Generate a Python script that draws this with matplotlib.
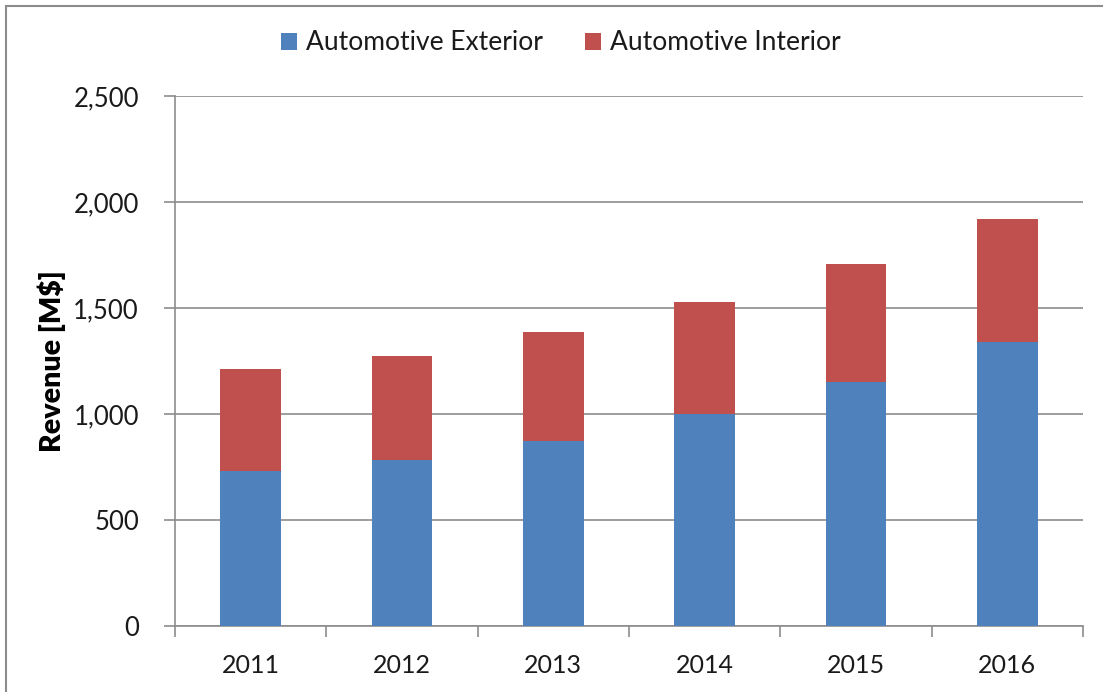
import matplotlib
matplotlib.use("Agg")
import matplotlib.pyplot as plt
from matplotlib.patches import Rectangle
from matplotlib.ticker import FuncFormatter, FixedLocator

years = ["2011", "2012", "2013", "2014", "2015", "2016"]
exterior = [730, 783, 873, 1002, 1151, 1340]
interior = [481, 489, 514, 525, 558, 578]
series_names = ["Automotive Exterior", "Automotive Interior"]
yticks = [0, 500, 1000, 1500, 2000, 2500]

plt.rcParams['font.family'] = ['Lato', 'DejaVu Sans']

W, H = 1103, 692
fig = plt.figure(figsize=(W / 100, H / 100), dpi=100)

# outer frame
fig.patches.append(Rectangle((6 / W, -0.05), 1.1, (H - 6) / H + 0.05, transform=fig.transFigure,
                             fill=False, edgecolor="#8c8c8c", linewidth=1.5))

left, right, top, bottom = 175, 1083, 96, 626
ax = fig.add_axes([left / W, 1 - bottom / H, (right - left) / W, (bottom - top) / H])

x = list(range(len(years)))
blue = "#4F81BD"
red = "#C0504D"
b1 = ax.bar(x, exterior, width=0.40, color=blue, label=series_names[0], zorder=3)
b2 = ax.bar(x, interior, width=0.40, bottom=exterior, color=red, label=series_names[1], zorder=3)

ax.set_xlim(-0.5, len(years) - 0.5)
ax.set_ylim(0, 2500)
ax.yaxis.set_major_locator(FixedLocator(yticks))
ax.yaxis.set_major_formatter(FuncFormatter(lambda v, p: f"{int(v):,}"))
ax.set_xticks(x)
ax.set_xticklabels(years)
ax.xaxis.set_minor_locator(FixedLocator([i - 0.5 for i in range(len(years) + 1)]))

grid_c = "#8c8c8c"
ax.grid(axis="y", color=grid_c, linewidth=1.2, zorder=0)
for s in ["top", "right"]:
    ax.spines[s].set_visible(False)
for s in ["left", "bottom"]:
    ax.spines[s].set_color(grid_c)
    ax.spines[s].set_linewidth(1.2)

ax.tick_params(axis="x", which="major", length=0, pad=20, labelsize=18, colors="#1a1a1a")
ax.tick_params(axis="x", which="minor", length=8, width=1.2, color=grid_c)
ax.tick_params(axis="y", length=8, width=1.2, color=grid_c, pad=18, labelsize=18.5, labelcolor="#1a1a1a")

fig.text(52 / W, 1 - 361 / H, "Revenue [M$]", rotation=90, ha="center", va="center",
         fontsize=20.5, fontweight="heavy", color="#000000")

leg = fig.legend(handles=[b1, b2], labels=series_names, loc="center", bbox_to_anchor=(561 / W, 1 - 43 / H),
                 ncol=2, frameon=False, fontsize=19, handlelength=0.6, handleheight=0.6,
                 handletextpad=0.35, columnspacing=1.6)
for t in leg.get_texts():
    t.set_color("#1a1a1a")

fig.savefig("out.png", dpi=100)
